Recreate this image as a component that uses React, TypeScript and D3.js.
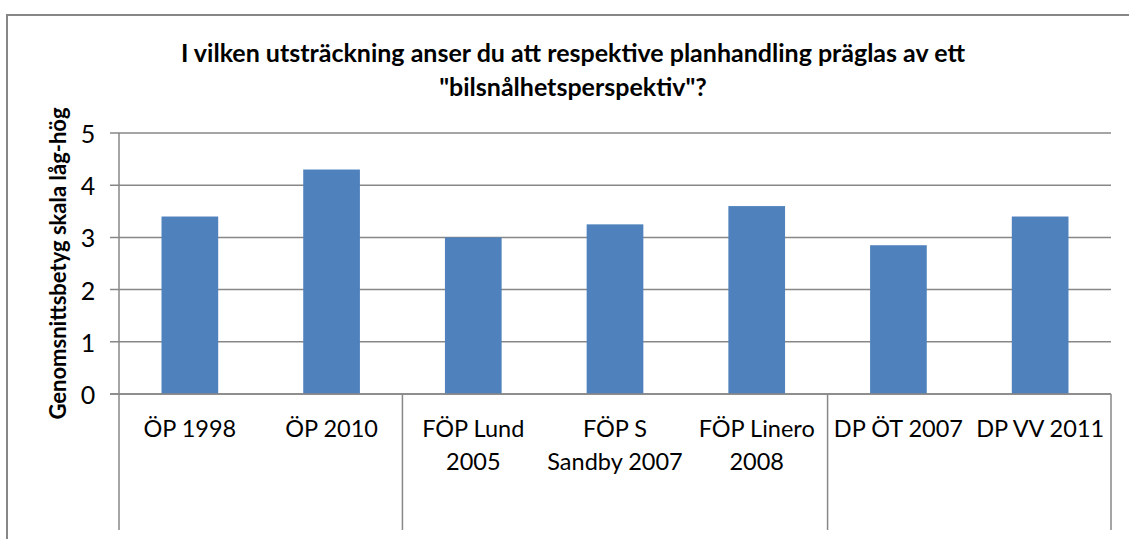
import * as d3 from "d3";

const titleLines = [
  "I vilken utsträckning anser du att respektive planhandling präglas av ett",
  "\"bilsnålhetsperspektiv\"?",
];
const yLabel = "Genomsnittsbetyg skala låg-hög";

// category labels (as wrapped in the chart)
const categories = [
  ["ÖP 1998"],
  ["ÖP 2010"],
  ["FÖP Lund", "2005"],
  ["FÖP S", "Sandby 2007"],
  ["FÖP Linero", "2008"],
  ["DP ÖT 2007"],
  ["DP VV 2011"],
];
const values = [3.4, 4.3, 3.0, 3.25, 3.6, 2.85, 3.4];
// number of categories in each (unlabelled) outer group
const groupSizes = [2, 3, 2];
const yTicks = [0, 1, 2, 3, 4, 5];

const W = 1129;
const H = 539;
const plot = { left: 119, right: 1111, top: 133, bottom: 394 };
const font = "Lato, Carlito, Calibri, sans-serif";
const gray = "#878787";

export default function App() {
  const keys = categories.map((c) => c.join(" "));
  const x = d3
    .scaleBand()
    .domain(keys)
    .range([plot.left, plot.right])
    .paddingInner(0.6)
    .paddingOuter(0.3);
  const y = d3.scaleLinear().domain([0, 5]).range([plot.bottom, plot.top]);
  const step = x.step();

  // group boundaries
  const bounds = [0, ...d3.cumsum(groupSizes)].map((n) => plot.left + n * step);

  return (
    <svg
      width={W}
      height={H}
      style={{ position: "absolute", left: 0, top: 0, background: "#fff" }}
    >
      <rect x={7} y={15} width={W} height={H} fill="#fff" stroke={gray} strokeWidth={2} />

      {titleLines.map((t, i) => (
        <text
          key={i}
          x={573}
          y={52 + i * 34}
          textAnchor="middle"
          dominantBaseline="central"
          fontFamily={font}
          fontWeight="bold"
          fontSize={25}
          fill="#000"
        >
          {t}
        </text>
      ))}

      {/* gridlines + ticks */}
      {yTicks.map((t) => (
        <g key={t}>
          <line x1={110} x2={plot.right} y1={y(t)} y2={y(t)} stroke={gray} strokeWidth={1.5} />
          <text
            x={88}
            y={y(t)}
            textAnchor="middle"
            dominantBaseline="central"
            fontFamily={font}
            fontSize={25}
            fill="#000"
          >
            {t}
          </text>
        </g>
      ))}

      {/* bars */}
      {values.map((v, i) => (
        <rect
          key={i}
          x={x(keys[i])}
          y={y(v)}
          width={x.bandwidth()}
          height={y(0) - y(v)}
          fill="#4F81BD"
        />
      ))}

      {/* axis lines */}
      <line x1={plot.left} x2={plot.left} y1={plot.top} y2={plot.bottom} stroke={gray} strokeWidth={1.5} />
      <line x1={110} x2={plot.right} y1={y(0)} y2={y(0)} stroke={gray} strokeWidth={1.5} />
      {bounds.map((b, i) => (
        <line key={i} x1={b} x2={b} y1={plot.bottom} y2={530} stroke={gray} strokeWidth={1.5} />
      ))}

      {/* category labels */}
      {categories.map((lines, i) => (
        <text
          key={i}
          x={(x(keys[i]) as number) + x.bandwidth() / 2}
          textAnchor="middle"
          fontFamily={font}
          fontSize={23.5}
          fill="#000"
        >
          {lines.map((l, j) => (
            <tspan key={j} x={(x(keys[i]) as number) + x.bandwidth() / 2} y={428 + j * 33} dominantBaseline="central">
              {l}
            </tspan>
          ))}
        </text>
      ))}

      <text
        transform={`translate(57,${(plot.top + plot.bottom) / 2}) rotate(-90)`}
        textAnchor="middle"
        dominantBaseline="central"
        fontFamily={font}
        fontWeight="bold"
        fontSize={22}
        fill="#000"
      >
        {yLabel}
      </text>
    </svg>
  );
}
